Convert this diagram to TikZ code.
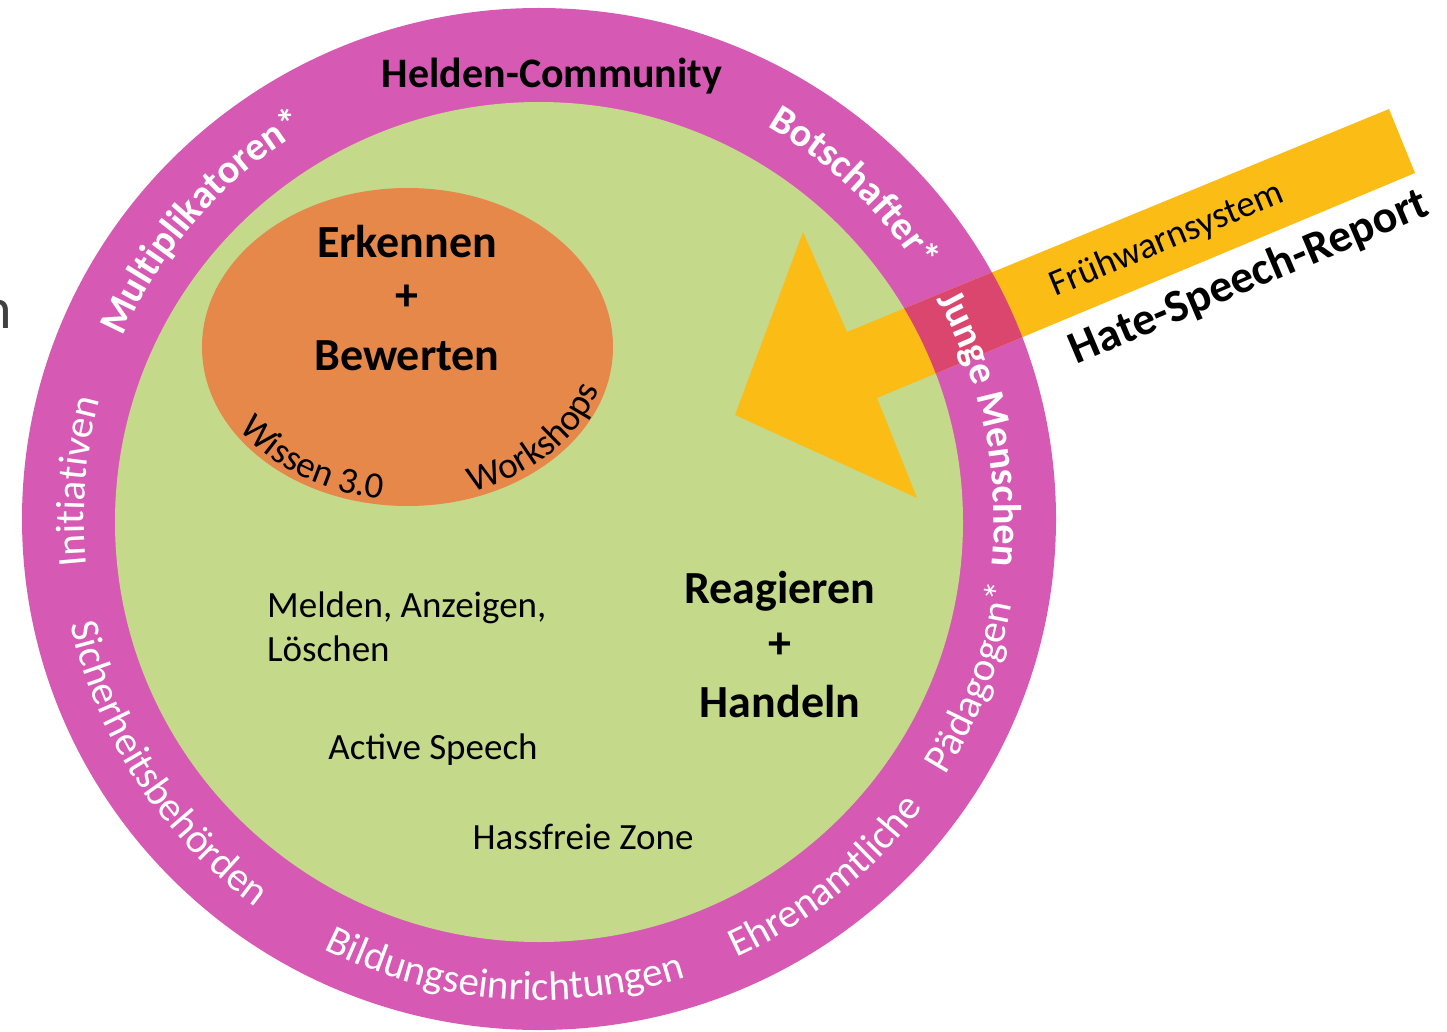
\documentclass[tikz,border=0pt]{standalone}
\usepackage{fontspec}
\setmainfont{Carlito}
\usetikzlibrary{decorations.text}
\definecolor{ringmag}{RGB}{214,90,180}
\definecolor{innergreen}{RGB}{197,217,139}
\definecolor{coreorange}{RGB}{229,136,74}
\definecolor{arrowyellow}{RGB}{251,188,22}
\definecolor{overlapred}{RGB}{218,70,110}
\definecolor{edgegray}{RGB}{64,64,64}
\newcommand{\fsz}[1]{\fontsize{#1}{#1}\selectfont}
\newcommand{\ringB}{\fsz{40}\bfseries\color{white}}
\newcommand{\ringR}{\fsz{41}\color{white}}
\newcommand{\ovalR}{\fsz{37}\color{black}}
\newcommand{\ringlabel}[5]{%
  \path[decorate,decoration={text along path,text align=center,text={|#1|#5}}]
    ([shift={(539,-520)}]#3:#2) arc[start angle=#3,end angle=#4,radius=#2];}
\begin{document}
\begin{tikzpicture}[x=1pt,y=1pt,
  bigbold/.style={font=\fsz{46}\bfseries, inner sep=0pt},
  plaintext/.style={font=\fsz{37}, inner sep=0pt}]
\useasboundingbox (0,0) rectangle (1447,-1032);
% rings
\fill[ringmag] (539,-519) ellipse[x radius=517, y radius=511];
\fill[innergreen] (539,-522) ellipse[x radius=424, y radius=420];
\fill[coreorange] (407.5,-347) ellipse[x radius=205.5, y radius=159];
% arrow
\fill[arrowyellow] (1389,-109) -- (847,-332) -- (803,-232) -- (735,-415) -- (917,-498) -- (877,-398) -- (1415,-173) -- cycle;
\begin{scope}
\clip (1389,-109) -- (847,-332) -- (803,-232) -- (735,-415) -- (917,-498) -- (877,-398) -- (1415,-173) -- cycle;
\fill[overlapred, even odd rule] (539,-519) ellipse[x radius=517, y radius=511] (539,-522) ellipse[x radius=424, y radius=420];
\end{scope}
% ring labels
\node[font=\fsz{42}\bfseries, inner sep=0pt, anchor=base] (helden) at (552,-88) {Helden-Community};
\ringlabel{\ringB}{455}{183.6}{93.6}{Multiplikatoren*}
\ringlabel{\ringB}{455}{86.5}{6.5}{Botschafter*}
\ringlabel{\ringB}{455}{51.6}{-28.4}{Junge Menschen}
\ringlabel{\ringR}{455}{215.2}{135.2}{Initiativen}
\ringlabel{\ringR}{480}{-59.9}{20.1}{Pädagogen*}
\ringlabel{\ringR}{480}{-91.3}{-11.3}{Ehrenamtliche}
\ringlabel{\ringR}{480}{-144.4}{-44.4}{Bildungseinrichtungen}
\ringlabel{\ringR}{480}{-196.8}{-96.8}{Sicherheitsbehörden}
% oval labels
\path[decorate,decoration={text along path,text align=center,text={|\ovalR|Wissen 3.0}}]
  ([shift={(407.5,-347)}]196:199 and 153) arc[start angle=196,end angle=276,x radius=199,y radius=153];
\path[decorate,decoration={text along path,text align=center,text={|\ovalR|Workshops}}]
  ([shift={(407.5,-347)}]278:199 and 153) arc[start angle=278,end angle=358,x radius=199,y radius=153];
% central texts
\node[bigbold, anchor=base] (erkennen) at (407,-258) {Erkennen};
\node[bigbold] (plusA) at (407,-298) {+};
\node[bigbold, anchor=base] (bewerten) at (407,-370) {Bewerten};
\node[bigbold, anchor=base] (reagieren) at (780,-603) {Reagieren};
\node[bigbold] (plusB) at (780,-646) {+};
\node[bigbold, anchor=base] (handeln) at (780,-717) {Handeln};
\node[plaintext, anchor=base west] (melden) at (267,-617) {Melden, Anzeigen,};
\node[plaintext, anchor=base west] (loeschen) at (267,-661) {Löschen};
\node[plaintext, anchor=base] (active) at (433,-759) {Active Speech};
\node[plaintext, anchor=base] (hassfrei) at (583,-849) {Hassfreie Zone};
% arrow texts
\node[font=\fsz{37}, rotate=22.5, inner sep=0pt] (frueh) at (1167,-240) {Frühwarnsystem};
\node[font=\fsz{46}\bfseries, rotate=23, inner sep=0pt] (hsr) at (1249,-278) {Hate-Speech-Report};
% cut letter at left edge
\node[font=\fsz{58}, text=edgegray, anchor=base east, inner sep=0pt] (cutn) at (12.5,-328) {n};
\end{tikzpicture}
\end{document}
